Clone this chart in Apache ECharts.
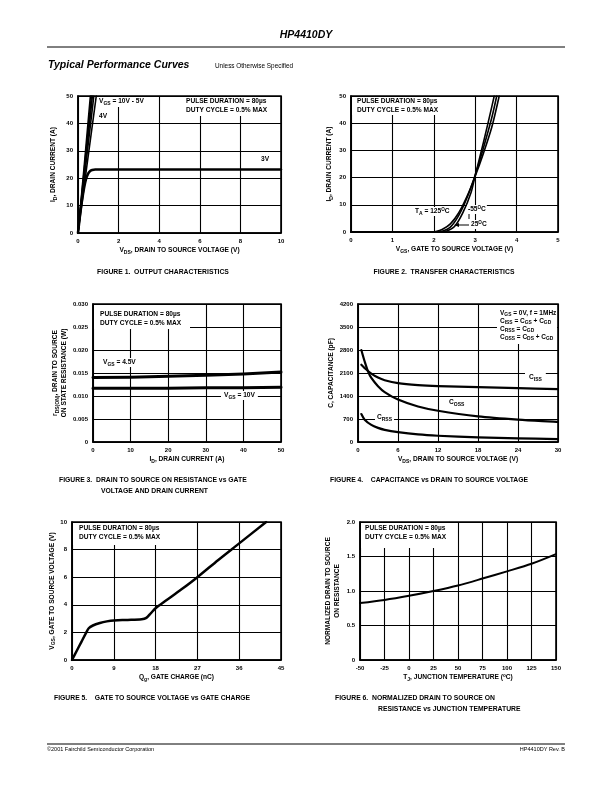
<!DOCTYPE html>
<html><head><meta charset="utf-8">
<script src="https://cdn.jsdelivr.net/npm/echarts@6/dist/echarts.min.js"></script>
<style>html,body{margin:0;padding:0;background:#fff}#c{width:612px;height:792px}</style>
</head><body><div id="c"></div>
<script>
// ---------------- DATA ----------------
// Figure 1: output characteristics [VDS (V), ID (A)]
const fig1_xTicks = [0, 2, 4, 6, 8, 10];
const fig1_yTicks = [0, 10, 20, 30, 40, 50];
const fig1_vgs10V = [[0, 0], [0.3, 24], [0.61, 50]];
const fig1_vgs8V  = [[0, 0], [0.32, 24], [0.66, 50]];
const fig1_vgs6V  = [[0, 0], [0.34, 24], [0.71, 50]];
const fig1_vgs5V  = [[0, 0], [0.37, 24], [0.78, 50]];
const fig1_vgs4V  = [[0, 0], [0.41, 23], [0.9, 50]];
const fig1_vgs3V  = [[0, 0], [0.1, 6.5], [0.2, 12], [0.3, 16.5], [0.4, 19.8], [0.5, 21.7], [0.6, 22.6], [0.7, 23], [0.85, 23.2], [1, 23.2], [10, 23.2]];

// Figure 2: transfer characteristics [VGS (V), ID (A)]
const fig2_xTicks = [0, 1, 2, 3, 4, 5];
const fig2_yTicks = [0, 10, 20, 30, 40, 50];
const fig2_T125 = [[0, 0], [1.9, 0], [2.05, 0.2], [2.2, 0.9], [2.4, 3], [2.6, 7], [2.8, 13], [3.0, 20.5], [3.2, 29], [3.4, 38.5], [3.58, 50]];
const fig2_T25  = [[0, 0], [2.05, 0], [2.2, 0.3], [2.4, 1.8], [2.6, 6], [2.8, 12.5], [3.0, 21], [3.2, 31], [3.4, 42], [3.52, 50]];
const fig2_Tm55 = [[0, 0], [2.15, 0], [2.3, 0.3], [2.5, 2], [2.7, 7], [2.9, 14.5], [3.0, 20.8], [3.2, 33], [3.4, 46], [3.46, 50]];

// Figure 3: rDS(ON) vs ID [ID (A), ohm]
const fig3_xTicks = [0, 10, 20, 30, 40, 50];
const fig3_yTicks = [0, 0.005, 0.010, 0.015, 0.020, 0.025, 0.030];
const fig3_yLabels = ['0', '0.005', '0.010', '0.015', '0.020', '0.025', '0.030'];
const fig3_vgs4_5V = [[0, 0.0140], [10, 0.0141], [20, 0.0143], [30, 0.0145], [40, 0.0148], [50, 0.0152]];
const fig3_vgs10V  = [[0, 0.0117], [10, 0.0117], [20, 0.0117], [30, 0.0118], [40, 0.0118], [50, 0.0119]];

// Figure 4: capacitance [VDS (V), pF]
const fig4_xTicks = [0, 6, 12, 18, 24, 30];
const fig4_yTicks = [0, 700, 1400, 2100, 2800, 3500, 4200];
const fig4_Ciss = [[0.5, 2350], [1, 2250], [2, 2080], [3, 1960], [4, 1880], [6, 1790], [9, 1730], [12, 1700], [18, 1670], [24, 1640], [30, 1610]];
const fig4_Coss = [[0.5, 2800], [1, 2450], [1.5, 2150], [2, 1950], [3, 1700], [4, 1520], [6, 1290], [9, 1080], [12, 950], [18, 780], [24, 680], [30, 610]];
const fig4_Crss = [[0.5, 850], [1, 680], [2, 520], [3, 430], [4, 370], [6, 300], [9, 230], [12, 190], [18, 140], [24, 110], [30, 90]];

// Figure 5: gate charge [Qg (nC), VGS (V)]
const fig5_xTicks = [0, 9, 18, 27, 36, 45];
const fig5_yTicks = [0, 2, 4, 6, 8, 10];
const fig5_vgs = [[0, 0], [1, 0.65], [2, 1.3], [3, 1.95], [3.6, 2.3], [4.5, 2.5], [6, 2.68], [7.5, 2.8], [9, 2.87], [12, 2.9], [15, 2.95], [16, 3.05], [17, 3.4], [18, 3.75], [20, 4.25], [23.5, 5.1], [27, 6.0], [31.5, 7.25], [36, 8.45], [41.8, 10]];

// Figure 6: normalized rDS(ON) vs TJ [degC, ratio]
const fig6_xTicks = [-50, -25, 0, 25, 50, 75, 100, 125, 150];
const fig6_yTicks = [0, 0.5, 1.0, 1.5, 2.0];
const fig6_yLabels = ['0', '0.5', '1.0', '1.5', '2.0'];
const fig6_norm = [[-50, 0.825], [-25, 0.87], [0, 0.93], [25, 1.0], [50, 1.08], [75, 1.18], [100, 1.285], [125, 1.395], [150, 1.535]];

// ---------------- STYLE ----------------
const F = '"Liberation Sans", Arial, Helvetica, sans-serif';
const RICH = {
  b: {fontSize: 6.6, fontWeight: 'bold', fontFamily: F, color: '#000', fill: '#000', lineHeight: 9},
  s: {fontSize: 5, fontWeight: 'bold', fontFamily: F, color: '#000', fill: '#000', lineHeight: 5, verticalAlign: 'bottom'},
  p: {fontSize: 4.6, fontWeight: 'bold', fontFamily: F, color: '#000', fill: '#000', lineHeight: 5, verticalAlign: 'top'},
  c: {fontSize: 6.5, fontWeight: 'bold', fontFamily: F, color: '#000', fill: '#000', lineHeight: 8},
  cs: {fontSize: 4.9, fontWeight: 'bold', fontFamily: F, color: '#000', fill: '#000', lineHeight: 5, verticalAlign: 'bottom'}
};

const grids = [
  {left: 78, top: 96, width: 203, height: 137},
  {left: 351, top: 96, width: 207, height: 136},
  {left: 93, top: 304, width: 188, height: 138},
  {left: 358, top: 304, width: 200, height: 138},
  {left: 72, top: 522, width: 209, height: 138},
  {left: 360, top: 522, width: 196, height: 138}
].map(g => Object.assign({show: true, borderColor: '#000', borderWidth: 1.6, backgroundColor: 'transparent'}, g));

function axis(i, ticks, name, gap, extra, labels) {
  const a = {
    gridIndex: i, type: 'value',
    min: ticks[0], max: ticks[ticks.length - 1], interval: ticks[1] - ticks[0],
    axisLine: {show: true, onZero: false, lineStyle: {color: '#000', width: 1.6}},
    axisTick: {show: false},
    splitLine: {show: true, lineStyle: {color: '#000', width: 1.1}},
    axisLabel: {color: '#000', fontSize: 6, fontWeight: 'bold', fontFamily: F, margin: 5,
      formatter: v => {
        if (labels) { const k = ticks.findIndex(t => Math.abs(t - v) < 1e-9); return k >= 0 ? labels[k] : ''; }
        return String(v);
      }},
    name: name, nameLocation: 'middle', nameGap: gap,
    nameTextStyle: {rich: RICH, color: '#000', fontSize: 6.6, fontWeight: 'bold', fontFamily: F, lineHeight: 9}
  };
  return Object.assign(a, extra || {});
}

const xAxes = [
  axis(0, fig1_xTicks, '{b|V}{s|DS}{b|, DRAIN TO SOURCE VOLTAGE (V)}', 13),
  axis(1, fig2_xTicks, '{b|V}{s|GS}{b|, GATE TO SOURCE VOLTAGE (V)}', 13),
  axis(2, fig3_xTicks, '{b|I}{s|D}{b|, DRAIN CURRENT (A)}', 13),
  axis(3, fig4_xTicks, '{b|V}{s|DS}{b|, DRAIN TO SOURCE VOLTAGE (V)}', 13),
  axis(4, fig5_xTicks, '{b|Q}{s|g}{b|, GATE CHARGE (nC)}', 13),
  axis(5, fig6_xTicks, '{b|T}{s|J}{b|, JUNCTION TEMPERATURE (}{p|o}{b|C)}', 13)
];
const yAxes = [
  axis(0, fig1_yTicks, '{b|I}{s|D}{b|, DRAIN CURRENT (A)}', 20, {nameRotate: 90}),
  axis(1, fig2_yTicks, '{b|I}{s|D}{b|, DRAIN CURRENT (A)}', 17, {nameRotate: 90}),
  axis(2, fig3_yTicks, '{b|r}{s|DS(ON)}{b|, DRAIN TO SOURCE}\n{b|ON STATE RESISTANCE (W)}', 23, {nameRotate: 90}, fig3_yLabels),
  axis(3, fig4_yTicks, '{b|C, CAPACITANCE (pF)}', 22, {nameRotate: 90}),
  axis(4, fig5_yTicks, '{b|V}{s|GS}{b|, GATE TO SOURCE VOLTAGE (V)}', 15, {nameRotate: 90}),
  axis(5, fig6_yTicks, '{b|NORMALIZED DRAIN TO SOURCE}\n{b|ON RESISTANCE}', 18, {nameRotate: 90}, fig6_yLabels)
];

function line(i, data, w, smooth, extra) {
  return Object.assign({
    type: 'line', xAxisIndex: i, yAxisIndex: i, data: data,
    showSymbol: false, symbol: 'none', smooth: smooth ? 0.3 : false,
    lineStyle: {color: '#000', width: w, join: 'round', cap: 'round'}, z: 3, silent: true
  }, extra || {});
}

const series = [
  line(0, fig1_vgs10V, 1.6, false), line(0, fig1_vgs8V, 1.6, false), line(0, fig1_vgs6V, 1.6, false),
  line(0, fig1_vgs5V, 1.6, false), line(0, fig1_vgs4V, 1.6, false), line(0, fig1_vgs3V, 2.6, true),
  line(1, fig2_T125, 1.6, true), line(1, fig2_T25, 1.6, true), line(1, fig2_Tm55, 1.6, true),
  line(2, fig3_vgs4_5V, 3, false), line(2, fig3_vgs10V, 3, false),
  line(3, fig4_Ciss, 2.2, true), line(3, fig4_Coss, 2.2, true), line(3, fig4_Crss, 2.2, true),
  line(4, fig5_vgs, 2.5, true),
  line(5, fig6_norm, 2, true)
];

// ---------------- TEXT ----------------
function txt(x, y, text, o) {
  o = o || {};
  return {type: 'text', x: x, y: y, z: 100, silent: true,
    style: Object.assign({text: text, fill: '#000', fontFamily: F, fontSize: o.fs || 6.6, fontWeight: o.fw || 'bold',
      fontStyle: o.it ? 'italic' : 'normal', align: o.align || 'left', verticalAlign: o.va || 'top',
      lineHeight: o.lh, rich: RICH, backgroundColor: o.bg, padding: o.pad}, o.style || {})};
}
function box(x1, y1, x2, y2) {
  return {type: 'rect', z: 90, silent: true, shape: {x: x1, y: y1, width: x2 - x1, height: y2 - y1}, style: {fill: '#fff'}};
}
const WB = '#fff';
const pulse = '{b|PULSE DURATION = 80µs}\n{b|DUTY CYCLE = 0.5% MAX}';
const graphic = [
  txt(306, 30, 'HP4410DY', {fs: 10.5, it: true, align: 'center'}),
  {type: 'line', z: 100, shape: {x1: 47, y1: 47, x2: 565, y2: 47}, style: {stroke: '#000', lineWidth: 1}},
  txt(48, 60, 'Typical Performance Curves', {fs: 10.5, it: true}),
  txt(215, 63, 'Unless Otherwise Specified', {fs: 6.4, fw: 'normal'}),
  {type: 'line', z: 100, shape: {x1: 47, y1: 744, x2: 565, y2: 744}, style: {stroke: '#000', lineWidth: 1}},
  txt(47, 746, '©2001 Fairchild Semiconductor Corporation', {fs: 5.5, fw: 'normal'}),
  txt(565, 746, 'HP4410DY Rev. B', {fs: 5.5, fw: 'normal', align: 'right'}),

  // captions
  txt(163, 269, 'FIGURE 1.  OUTPUT CHARACTERISTICS', {fs: 6.8, align: 'center'}),
  txt(444, 269, 'FIGURE 2.  TRANSFER CHARACTERISTICS', {fs: 6.8, align: 'center'}),
  txt(59, 477, 'FIGURE 3.  DRAIN TO SOURCE ON RESISTANCE vs GATE', {fs: 6.8}),
  txt(101, 488, 'VOLTAGE AND DRAIN CURRENT', {fs: 6.8}),
  txt(330, 477, 'FIGURE 4.    CAPACITANCE vs DRAIN TO SOURCE VOLTAGE', {fs: 6.8}),
  txt(54, 695, 'FIGURE 5.    GATE TO SOURCE VOLTAGE vs GATE CHARGE', {fs: 6.8}),
  txt(335, 695, 'FIGURE 6.  NORMALIZED DRAIN TO SOURCE ON', {fs: 6.8}),
  txt(378, 706, 'RESISTANCE vs JUNCTION TEMPERATURE', {fs: 6.8}),

  // figure 1 annotations
  txt(97, 97, '{b|V}{s|GS}{b| = 10V - 5V}', {bg: WB, pad: [0, 2, 1, 2]}),
  txt(98, 112, '{b|4V}', {bg: WB, pad: [0, 1, 0, 1]}),
  box(183, 97, 280, 116),
  txt(186, 97, pulse, {style: {lineHeight: 6.8}}),
  txt(261, 155, '{b|3V}', {}),

  // figure 2 annotations
  box(352, 97, 450, 115),
  txt(357, 97, pulse),
  txt(414, 207, '{b|T}{s|A}{b| = 125}{p|O}{b|C}', {bg: WB, pad: [0, 1, 0, 1]}),
  txt(467, 205, '{b|-55}{p|O}{b|C}', {bg: WB, pad: [0, 1, 0, 1]}),
  txt(470, 220, '{b|25}{p|O}{b|C}', {bg: WB, pad: [0, 1, 0, 1]}),
  {type: 'line', z: 100, shape: {x1: 456, y1: 225, x2: 469, y2: 225}, style: {stroke: '#000', lineWidth: 1}},
  {type: 'polygon', z: 100, shape: {points: [[454, 225], [459, 223], [459, 227]]}, style: {fill: '#000'}},
  {type: 'line', z: 100, shape: {x1: 469, y1: 214, x2: 469, y2: 219}, style: {stroke: '#000', lineWidth: 1}},

  // figure 3 annotations
  box(94, 305, 190, 329),
  txt(100, 310, pulse),
  txt(101, 358, '{b|V}{s|GS}{b| = 4.5V}', {bg: WB, pad: [0, 2, 0, 2]}),
  txt(221, 391, '{b|V}{s|GS}{b| = 10V}', {bg: WB, pad: [0, 3, 0, 3]}),

  // figure 4 annotations
  box(497, 305, 557, 344),
  txt(500, 309, '{c|V}{cs|GS}{c| = 0V, f = 1MHz}\n{c|C}{cs|ISS}{c| = C}{cs|GS}{c| + C}{cs|GD}\n{c|C}{cs|RSS}{c| = C}{cs|GD}\n{c|C}{cs|OSS}{c| = C}{cs|DS}{c| + C}{cs|GD}',
    {style: {lineHeight: 8}}),
  txt(525, 373, '{b|C}{s|ISS}', {bg: WB, pad: [0, 4, 0, 4]}),
  txt(449, 398, '{b|C}{s|OSS}', {}),
  txt(375, 413, '{b|C}{s|RSS}', {bg: WB, pad: [0, 2, 0, 2]}),

  // figure 5 annotation
  box(73, 523, 168, 545),
  txt(79, 524, pulse),
  // figure 6 annotation
  box(361, 523, 457, 548),
  txt(365, 524, pulse)
];

const chart = echarts.init(document.getElementById('c'), null, {renderer: 'canvas'});
chart.setOption({
  animation: false,
  backgroundColor: '#fff',
  grid: grids, xAxis: xAxes, yAxis: yAxes, series: series, graphic: graphic
});
</script></body></html>
